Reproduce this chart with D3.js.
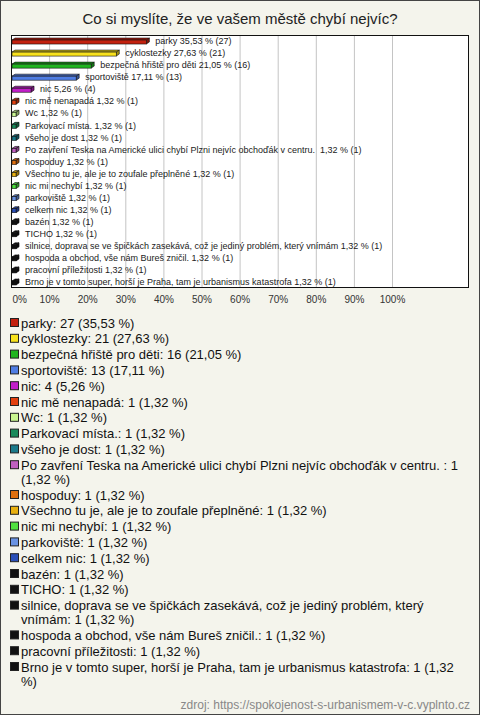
<!DOCTYPE html>
<html><head><meta charset="utf-8">
<script src="https://cdn.jsdelivr.net/npm/d3@7"></script>
<style>
body{margin:0;background:#f4f4ec}
svg{display:block}
text{font-family:"Liberation Sans",Arial,sans-serif}
</style>
</head><body><svg id="c" width="480" height="715"></svg>
<script>
const chartTitle = "Co si myslíte, že ve vašem městě chybí nejvíc?";
const sourceText = "zdroj: https://spokojenost-s-urbanismem-v-c.vyplnto.cz";
const categories = [
  "parky", "cyklostezky", "bezpečná hřiště pro děti", "sportoviště", "nic",
  "nic mě nenapadá", "Wc", "Parkovací místa.", "všeho je dost",
  "Po zavření Teska na Americké ulici chybí Plzni nejvíc obchoďák v centru. ",
  "hospoduy", "Všechno tu je, ale je to zoufale přeplněné", "nic mi nechybí",
  "parkoviště", "celkem nic", "bazén", "TICHO",
  "silnice, doprava se ve špičkách zasekává, což je jediný problém, který vnímám",
  "hospoda a obchod, vše nám Bureš zničil.", "pracovní příležitosti",
  "Brno je v tomto super, horší je Praha, tam je urbanismus katastrofa"
];
const counts = [27, 21, 16, 13, 4, 1, 1, 1, 1, 1, 1, 1, 1, 1, 1, 1, 1, 1, 1, 1, 1];
const percents = [35.53, 27.63, 21.05, 17.11, 5.26, 1.32, 1.32, 1.32, 1.32, 1.32, 1.32,
  1.32, 1.32, 1.32, 1.32, 1.32, 1.32, 1.32, 1.32, 1.32, 1.32];
const colors = [
  "#c3210f", "#f8e21c", "#1fb51f", "#4f7de3", "#c11fc9",
  "#e2400f", "#c9f590", "#1a8a5a", "#1b7a8a", "#c060c0",
  "#e0700f", "#e8b010", "#4fe03f", "#6a93e3", "#2a4fb8",
  "#111111", "#111111", "#111111", "#111111", "#111111", "#111111"
];
const tickValues = [0, 10, 20, 30, 40, 50, 60, 70, 80, 90, 100];

const fmt = v => d3.format(".2f")(v).replace(".", ",");
const data = categories.map((c, i) => ({cat: c, n: counts[i], p: percents[i], color: colors[i]}));

const svg = d3.select("#c");
svg.append("rect").attr("x", 0.5).attr("y", 0.5).attr("width", 479).attr("height", 714)
  .attr("fill", "#f4f4ec").attr("stroke", "#444");

svg.append("text").attr("x", 240).attr("y", 19).attr("dy", "0.35em")
  .attr("text-anchor", "middle").attr("font-size", 15).attr("fill", "#222").text(chartTitle);

const plot = {left: 11, top: 35, right: 469, bottom: 288};
const x = d3.scaleLinear().domain([0, 100]).range([plot.left, 392]);
const y = d3.scaleBand().domain(categories).range([plot.top, plot.bottom]);

svg.append("rect").attr("x", plot.left).attr("y", plot.top)
  .attr("width", plot.right - plot.left).attr("height", plot.bottom - plot.top)
  .attr("fill", "#fff");

svg.append("g").selectAll("line").data(tickValues.filter(t => t > 0)).join("line")
  .attr("x1", d => x(d) + 0.5).attr("x2", d => x(d) + 0.5)
  .attr("y1", plot.top).attr("y2", plot.bottom)
  .attr("stroke", "#c4c4c4").attr("stroke-width", 1);

svg.append("rect").attr("x", plot.left + 0.5).attr("y", plot.top + 0.5)
  .attr("width", plot.right - plot.left - 1).attr("height", plot.bottom - plot.top - 1)
  .attr("fill", "none").attr("stroke", "#111");

// bars (3D)
const dx = 3, dy = 2, fh = 4;
const bars = svg.append("g").selectAll("g").data(data).join("g");
bars.each(function(d) {
  const g = d3.select(this);
  const x0 = x(0) + 1, x1 = x(d.p);
  const yc = y(d.cat) + y.bandwidth() / 2 + 1;
  const top = yc - fh / 2;
  const c = d3.color(d.color);
  g.append("polygon")
    .attr("points", [[x0, top], [x0 + dx, top - dy], [x1 + dx, top - dy], [x1, top]].join(" "))
    .attr("fill", c.darker(0.6)).attr("stroke", "#111").attr("stroke-width", 0.6);
  g.append("polygon")
    .attr("points", [[x1, top], [x1 + dx, top - dy], [x1 + dx, top + fh - dy], [x1, top + fh]].join(" "))
    .attr("fill", c.darker(1.2)).attr("stroke", "#111").attr("stroke-width", 0.6);
  g.append("rect").attr("x", x0).attr("y", top).attr("width", x1 - x0).attr("height", fh)
    .attr("fill", d.color).attr("stroke", "#111").attr("stroke-width", 0.6);
  g.append("text").attr("x", x1 + 9).attr("y", yc - 1).attr("dy", "0.35em")
    .attr("font-size", 9).attr("fill", "#222").style("white-space", "pre")
    .text(`${d.cat} ${fmt(d.p)} % (${d.n})`);
});

// axis
const axis = d3.axisBottom(x).tickValues(tickValues).tickFormat(d => d + "%")
  .tickSize(0).tickPadding(8);
const ag = svg.append("g").attr("transform", `translate(0,${plot.bottom})`).call(axis);
ag.select(".domain").remove();
ag.selectAll("text").attr("font-size", 10).attr("fill", "#333")
  .attr("font-family", "\"Liberation Sans\",Arial,sans-serif");
ag.selectAll(".tick").filter(d => d === 0).select("text").attr("text-anchor", "start").attr("x", 1);

// legend
const lg = svg.append("g");
let ly = 323;
const step = 15.8, wrapLH = 14, maxW = 449;
data.forEach(d => {
  const label = `${d.cat}: ${d.n} (${fmt(d.p)} %)`;
  const t = lg.append("text").attr("x", 21).attr("font-size", 13).attr("fill", "#111");
  const words = label.split(" ").filter(w => w.length);
  let lines = [], line = "";
  const probe = t.append("tspan");
  words.forEach(w => {
    const test = line ? line + " " + w : w;
    probe.text(test);
    if (probe.node().getComputedTextLength() > maxW && line) { lines.push(line); line = w; }
    else line = test;
  });
  lines.push(line);
  probe.remove();
  lines.forEach((ln, k) => {
    t.append("tspan").attr("x", 21).attr("y", ly + k * wrapLH).attr("dy", "0.35em").text(ln);
  });
  lg.append("rect").attr("x", 10.5).attr("y", ly - 4.5).attr("width", 8).attr("height", 8)
    .attr("fill", d.color).attr("stroke", "#222").attr("stroke-width", 1);
  ly += step + (lines.length - 1) * wrapLH;
});

svg.append("text").attr("x", 470).attr("y", 705).attr("dy", "0.35em")
  .attr("text-anchor", "end").attr("font-size", 12).attr("fill", "#888").text(sourceText);
</script>
</body></html>
